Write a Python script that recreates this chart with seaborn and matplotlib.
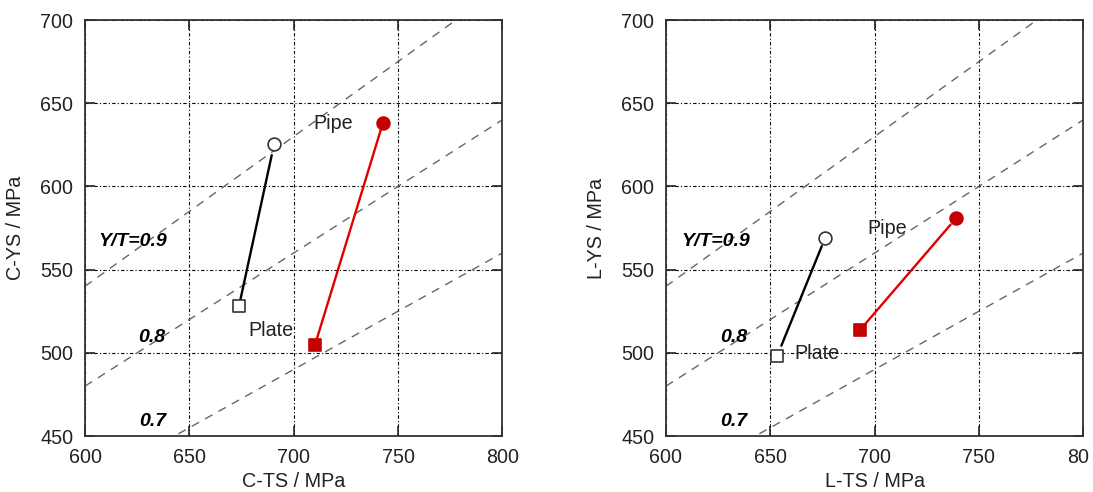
import numpy as np
import pandas as pd
import matplotlib
matplotlib.use("Agg")
import matplotlib.pyplot as plt
import seaborn as sns

sns.set_style("white")
plt.rcParams["font.family"] = ["Liberation Sans", "DejaVu Sans"]

# Strength data (MPa): plate -> pipe, transverse (C) and longitudinal (L)
c_ts_plate, c_ys_plate = 673.8, 528.1
c_ts_pipe, c_ys_pipe = 690.6, 625.3
c_ts_plate_r, c_ys_plate_r = 710.2, 504.7
c_ts_pipe_r, c_ys_pipe_r = 742.7, 637.9

l_ts_plate, l_ys_plate = 653.3, 498.1
l_ts_pipe, l_ys_pipe = 676.2, 568.8
l_ts_plate_r, l_ys_plate_r = 693.0, 513.7
l_ts_pipe_r, l_ys_pipe_r = 739.0, 580.8

yt_ratios = [0.9, 0.8, 0.7]
yt_labels = ["Y/T=0.9", "0.8", "0.7"]
yt_label_y = [567, 509, 459]

x_ticks = [600, 650, 700, 750, 800]
y_ticks = [450, 500, 550, 600, 650, 700]
left_xticklabels = ["600", "650", "700", "750", "800"]
right_xticklabels = ["600", "650", "700", "750", ""]
right_last_label = "80"

TXT = "#222222"
RED_M = "#c40000"
RED_L = "#e00000"
FS = 14.2

fig = plt.figure(figsize=(10.93, 4.92), dpi=100)
ax1 = fig.add_axes([0.0778, 0.1138, 0.3818, 0.8455])
ax2 = fig.add_axes([0.6093, 0.1138, 0.3818, 0.8455])


def setup(ax, xlabel, ylabel, xticklabels, label_right):
    ax.set_xlim(600, 800)
    ax.set_ylim(450, 700)
    ax.set_xticks(x_ticks)
    ax.set_yticks(y_ticks)
    ax.set_xticklabels(xticklabels)
    ax.grid(True, color="black", linestyle=(0, (3, 2, 1, 2)), linewidth=0.8)
    ax.set_axisbelow(True)
    ax.tick_params(direction="in", length=7, width=1.2, color="#222222",
                   top=True, right=True, bottom=True, left=True,
                   labelsize=FS, labelcolor=TXT, pad=8.5)
    for s in ax.spines.values():
        s.set_color("#333333")
        s.set_linewidth(1.3)
    ax.set_xlabel(xlabel, fontsize=FS, color=TXT, labelpad=3.5)
    ax.set_ylabel(ylabel, fontsize=FS, color=TXT, labelpad=11)
    xs = np.array([600.0, 800.0])
    for r, lab, ly, lx in zip(yt_ratios, yt_labels, yt_label_y, label_right):
        sns.lineplot(x=xs, y=r * xs, ax=ax, color="#666666",
                     linestyle=(0, (6, 5)), linewidth=1.0)
        ax.text(lx, ly, lab, ha="right", va="center", fontsize=14,
                fontweight="bold", fontstyle="italic", color="black")


def pair(ax, p0, p1, face, edge, line_color, shrink):
    ax.annotate("", xy=p1, xytext=p0,
                arrowprops=dict(arrowstyle="-", color=line_color, lw=1.7,
                                shrinkA=shrink[0], shrinkB=shrink[1]))
    df = pd.DataFrame({"x": [p0[0]], "y": [p0[1]]})
    sns.scatterplot(data=df, x="x", y="y", ax=ax, marker="s", s=80,
                    facecolor=face, edgecolor=edge, linewidth=1.2, zorder=5)
    df = pd.DataFrame({"x": [p1[0]], "y": [p1[1]]})
    sns.scatterplot(data=df, x="x", y="y", ax=ax, marker="o", s=85,
                    facecolor=face, edgecolor=edge, linewidth=1.2, zorder=5)


setup(ax1, "C-TS / MPa", "C-YS / MPa", left_xticklabels, [639.5, 638.5, 639.0])
pair(ax1, (c_ts_plate, c_ys_plate), (c_ts_pipe, c_ys_pipe), "white", "#333333", "black", (5, 8))
pair(ax1, (c_ts_plate_r, c_ys_plate_r), (c_ts_pipe_r, c_ys_pipe_r), RED_M, RED_M, RED_L, (5, 5))
ax1.text(709.4, 637.9, "Pipe", fontsize=FS, color=TXT, va="center", ha="left")
ax1.text(678.3, 513.7, "Plate", fontsize=FS, color=TXT, va="center", ha="left")

setup(ax2, "L-TS / MPa", "L-YS / MPa", right_xticklabels, [640.2, 638.9, 638.9])
pair(ax2, (l_ts_plate, l_ys_plate), (l_ts_pipe, l_ys_pipe), "white", "#333333", "black", (8, 6))
pair(ax2, (l_ts_plate_r, l_ys_plate_r), (l_ts_pipe_r, l_ys_pipe_r), RED_M, RED_M, RED_L, (5, 6))
ax2.text(696.4, 574.8, "Pipe", fontsize=FS, color=TXT, va="center", ha="left")
ax2.text(661.5, 499.3, "Plate", fontsize=FS, color=TXT, va="center", ha="left")

# last x tick label of the right panel, shown left-aligned at the frame edge
ax2.text(792.3, -0.0288, right_last_label, transform=ax2.get_xaxis_transform(),
         ha="left", va="top", fontsize=FS, color=TXT, clip_on=False)

for ax in (ax1, ax2):
    ax.set_xlim(600, 800)
    ax.set_ylim(450, 700)
    leg = ax.get_legend()
    if leg is not None:
        leg.remove()

fig.savefig("out.png", dpi=100, facecolor="white")
